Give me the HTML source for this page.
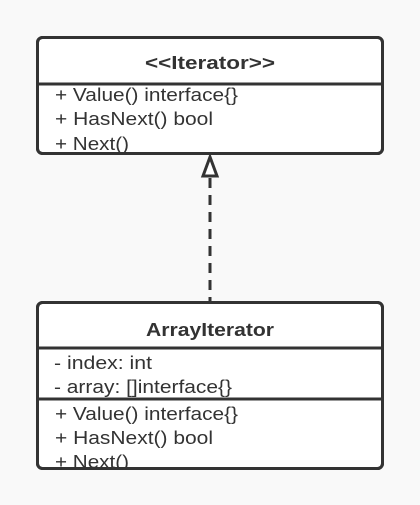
<!DOCTYPE html>
<html><head><meta charset="utf-8"><style>
html,body{margin:0;padding:0;background:#f9f9f9;}
svg{display:block;}
text{font-family:"Liberation Sans","Noto Sans CJK SC",sans-serif;fill:#333;font-size:18.5px;}
.b{font-weight:bold;}
</style></head><body>
<svg width="420" height="505" viewBox="0 0 420 505">
<defs>
<clipPath id="c1"><rect x="38" y="38" width="345" height="114"/></clipPath>
<clipPath id="c2"><rect x="38" y="303" width="345" height="164"/></clipPath>
</defs>
<rect x="0" y="0" width="420" height="505" fill="#f9f9f9"/>
<rect x="37.5" y="37.5" width="345" height="116" rx="5" fill="#fff" stroke="#333" stroke-width="3"/>
<line x1="37.5" y1="84" x2="382.5" y2="84" stroke="#333" stroke-width="3"/>
<text class="b" x="145" y="69" textLength="130" lengthAdjust="spacingAndGlyphs">&lt;&lt;Iterator&gt;&gt;</text>
<g clip-path="url(#c1)">
<text x="55" y="101" textLength="183" lengthAdjust="spacingAndGlyphs">+ Value() interface{}</text>
<text x="55" y="125" textLength="158" lengthAdjust="spacingAndGlyphs">+ HasNext() bool</text>
<text x="55" y="150" textLength="74" lengthAdjust="spacingAndGlyphs">+ Next()</text>
</g>
<rect x="37.5" y="37.5" width="345" height="116" rx="5" fill="none" stroke="#333" stroke-width="3"/>
<line x1="210" y1="178" x2="210" y2="302" stroke="#333" stroke-width="3" stroke-dasharray="10,7"/>
<polygon points="210,157 203,176 217,176" fill="#fff" stroke="#333" stroke-width="3"/>
<rect x="37.5" y="302.5" width="345" height="166" rx="5" fill="#fff" stroke="#333" stroke-width="3"/>
<line x1="37.5" y1="348" x2="382.5" y2="348" stroke="#333" stroke-width="3"/>
<line x1="37.5" y1="399" x2="382.5" y2="399" stroke="#333" stroke-width="3"/>
<text class="b" x="146" y="336" textLength="128" lengthAdjust="spacingAndGlyphs">ArrayIterator</text>
<g clip-path="url(#c2)">
<text x="54" y="369" textLength="98" lengthAdjust="spacingAndGlyphs">- index: int</text>
<text x="54" y="393" textLength="178" lengthAdjust="spacingAndGlyphs">- array: []interface{}</text>
<text x="55" y="420" textLength="183" lengthAdjust="spacingAndGlyphs">+ Value() interface{}</text>
<text x="55" y="444" textLength="158" lengthAdjust="spacingAndGlyphs">+ HasNext() bool</text>
<text x="55" y="468" textLength="74" lengthAdjust="spacingAndGlyphs">+ Next()</text>
</g>
<rect x="37.5" y="302.5" width="345" height="166" rx="5" fill="none" stroke="#333" stroke-width="3"/>
</svg>
</body></html>
